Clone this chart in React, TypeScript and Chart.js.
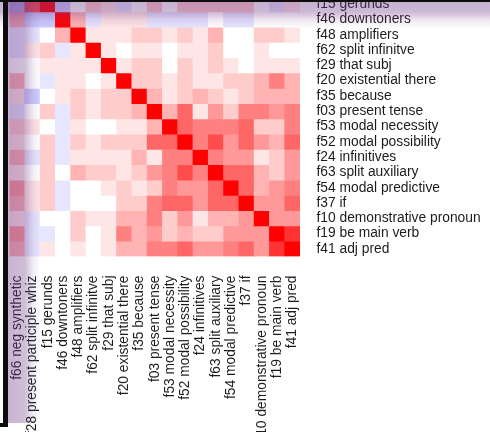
import { useEffect, useRef } from "react";
import { Chart, registerables } from "chart.js";

Chart.register(...registerables);

// Stylometric features, in the order used for both rows and columns
const features = [
  "f66 neg synthetic",
  "f28 present participle whiz",
  "f15 gerunds",
  "f46 downtoners",
  "f48 amplifiers",
  "f62 split infinitve",
  "f29 that subj",
  "f20 existential there",
  "f35 because",
  "f03 present tense",
  "f53 modal necessity",
  "f52 modal possibility",
  "f24 infinitives",
  "f63 split auxiliary",
  "f54 modal predictive",
  "f37 if",
  "f10 demonstrative pronoun",
  "f19 be main verb",
  "f41 adj pred",
];

// Binned pairwise correlations (symmetric)
const corr: number[][] = [
  [1, 0.2, -0.2, 0.3, -0.1, -0.1, 0, 0.3, 0.1, -0.1, 0.2, 0.1, 0.3, 0.1, 0.4, 0.3, 0.1, 0.4, 0.3],
  [0.2, 1, 0.7, -0.2, -0.1, 0.1, 0, 0, -0.2, 0, 0.1, 0, -0.1, 0, 0.1, 0.1, -0.1, -0.1, -0.1],
  [-0.2, 0.7, 1, -0.2, 0, 0.2, 0.1, -0.1, 0, 0.2, 0, 0.2, 0.2, 0.2, 0.2, 0.2, 0, -0.1, 0.1],
  [0.3, -0.2, -0.2, 1, 0.3, -0.1, 0.1, 0.1, 0.1, -0.1, -0.1, -0.1, -0.1, 0, -0.1, -0.1, 0, 0, 0],
  [-0.1, -0.1, 0, 0.3, 1, 0.1, 0.1, 0.1, 0.2, 0.2, 0.1, 0.2, 0.1, 0.3, 0, 0, 0.2, 0.2, 0.1],
  [-0.1, 0.1, 0.2, -0.1, 0.1, 1, 0.1, 0, 0.1, 0.1, 0, 0.1, 0.1, 0.2, 0, 0, 0.1, 0, 0],
  [0, 0, 0.1, 0.1, 0.1, 0.1, 1, 0.1, 0.2, 0.2, 0, 0.2, 0.1, 0.2, 0.1, 0, 0.1, 0.1, 0.1],
  [0.3, 0, -0.1, 0.1, 0.1, 0, 0.1, 1, 0.2, 0.2, 0.1, 0.2, 0.1, 0.1, 0.2, 0.2, 0.3, 0.5, 0.3],
  [0.1, -0.2, 0, 0.1, 0.2, 0.1, 0.2, 0.2, 1, 0.3, 0.1, 0.2, 0.3, 0.2, 0.1, 0.2, 0.3, 0.3, 0.3],
  [-0.1, 0, 0.2, -0.1, 0.2, 0.1, 0.2, 0.2, 0.3, 1, 0.3, 0.6, 0.1, 0.4, 0.2, 0.5, 0.5, 0.4, 0.5],
  [0.2, 0.1, 0, -0.1, 0.1, 0, 0, 0.1, 0.1, 0.3, 1, 0.6, 0.5, 0.5, 0.5, 0.6, 0.2, 0.2, 0.5],
  [0.1, 0, 0.2, -0.1, 0.2, 0.1, 0.2, 0.2, 0.2, 0.6, 0.6, 1, 0.5, 0.7, 0.4, 0.6, 0.4, 0.3, 0.6],
  [0.3, -0.1, 0.2, -0.1, 0.1, 0.1, 0.1, 0.1, 0.3, 0.1, 0.5, 0.5, 1, 0.5, 0.4, 0.4, 0.1, 0.2, 0.4],
  [0.1, 0, 0.2, 0, 0.3, 0.2, 0.2, 0.1, 0.2, 0.4, 0.5, 0.7, 0.5, 1, 0.6, 0.6, 0.3, 0.2, 0.4],
  [0.4, 0.1, 0.2, -0.1, 0, 0, 0.1, 0.2, 0.1, 0.2, 0.5, 0.4, 0.4, 0.6, 1, 0.6, 0.3, 0.4, 0.5],
  [0.3, 0.1, 0.2, -0.1, 0, 0, 0, 0.2, 0.2, 0.5, 0.6, 0.6, 0.4, 0.6, 0.6, 1, 0.4, 0.4, 0.6],
  [0.1, -0.1, 0, 0, 0.2, 0.1, 0.1, 0.3, 0.3, 0.5, 0.2, 0.4, 0.1, 0.3, 0.3, 0.4, 1, 0.4, 0.4],
  [0.4, -0.1, -0.1, 0, 0.2, 0, 0.1, 0.5, 0.3, 0.4, 0.2, 0.3, 0.2, 0.2, 0.4, 0.4, 0.4, 1, 0.8],
  [0.3, -0.1, 0.1, 0, 0.1, 0, 0.1, 0.3, 0.3, 0.5, 0.5, 0.6, 0.4, 0.4, 0.5, 0.6, 0.4, 0.8, 1],
];

// white -> red for positive, white -> blue for negative
function cellColor(v: number): string {
  if (v >= 0) {
    const k = Math.round(255 * (1 - v));
    return `rgb(255,${k},${k})`;
  }
  const k = Math.round(255 * (1 + v));
  return `rgb(${k},${k},255)`;
}

const FONT = { family: "'Liberation Sans', Arial, Helvetica, sans-serif", size: 13.8 };
const TEXT = "#1c1c1c";

const CANVAS_W = 490;
const CANVAS_H = 471;
const GRID_LEFT = 9.5;
const GRID_SIZE = 290.5;

const TINT = "110,56,135";

export default function App() {
  const ref = useRef<HTMLCanvasElement>(null);

  useEffect(() => {
    if (!ref.current) return;
    const n = features.length;
    const chart = new Chart(ref.current, {
      type: "bar",
      data: {
        labels: features,
        datasets: features.map((name, r) => ({
          label: name,
          data: features.map(() => [r, r + 1] as [number, number]),
          backgroundColor: corr[r].map(cellColor),
          borderWidth: 0,
          grouped: false,
          barPercentage: 1,
          categoryPercentage: 1,
          xAxisID: "x",
          yAxisID: "y",
        })),
      },
      options: {
        animation: false,
        responsive: false,
        maintainAspectRatio: false,
        layout: { padding: { left: GRID_LEFT, top: 0, right: 0, bottom: 0 } },
        plugins: { legend: { display: false }, tooltip: { enabled: false } },
        scales: {
          x: {
            type: "category",
            position: "bottom",
            offset: true,
            grid: { display: false, drawTicks: false },
            border: { display: false },
            ticks: {
              autoSkip: false,
              minRotation: 90,
              maxRotation: 90,
              padding: 19,
              color: TEXT,
              font: FONT,
            },
            afterFit: (s: any) => {
              s.height = CANVAS_H - GRID_SIZE;
              s.paddingLeft = 0;
              s.paddingRight = 0;
            },
          },
          y: {
            type: "linear",
            min: 0,
            max: n,
            reverse: true,
            display: false,
          },
          rows: {
            type: "category",
            labels: features,
            position: "right",
            offset: true,
            grid: { display: false, drawTicks: false },
            border: { display: false },
            ticks: { autoSkip: false, padding: 16.5, color: TEXT, font: FONT },
            afterFit: (s: any) => {
              s.width = CANVAS_W - GRID_LEFT - GRID_SIZE;
              s.paddingTop = 0;
              s.paddingBottom = 0;
            },
          },
        },
      } as any,
    });
    return () => chart.destroy();
  }, []);

  return (
    <div
      style={{
        position: "fixed",
        left: 0,
        top: 0,
        width: 490,
        height: 432,
        overflow: "hidden",
        background: "#fff",
      }}
    >
      <canvas
        ref={ref}
        width={CANVAS_W}
        height={CANVAS_H}
        style={{ position: "absolute", left: 0, top: -34.5, width: CANVAS_W, height: CANVAS_H }}
      />
      {/* shaded frame edges */}
      <div
        style={{
          position: "absolute",
          left: 0,
          top: 0,
          width: 490,
          height: 28,
          background: `linear-gradient(to bottom, rgba(${TINT},0.4) 0px, rgba(${TINT},0.35) 12px, rgba(${TINT},0.12) 20px, rgba(${TINT},0) 28px)`,
        }}
      />
      <div
        style={{
          position: "absolute",
          left: 8,
          top: 0,
          width: 32,
          height: 423,
          background: `linear-gradient(to right, rgba(${TINT},0.38) 0px, rgba(${TINT},0.33) 17px, rgba(${TINT},0.1) 25px, rgba(${TINT},0) 32px)`,
        }}
      />
      <div style={{ position: "absolute", left: 0, top: 0, width: 490, height: 1.5, background: "#0d0d0d" }} />
      <div style={{ position: "absolute", left: 3, top: 0, width: 5, height: 427, background: "#0d0d0d" }} />
      <div style={{ position: "absolute", left: 0, top: 423, width: 8, height: 4, background: "#0d0d0d" }} />
    </div>
  );
}
